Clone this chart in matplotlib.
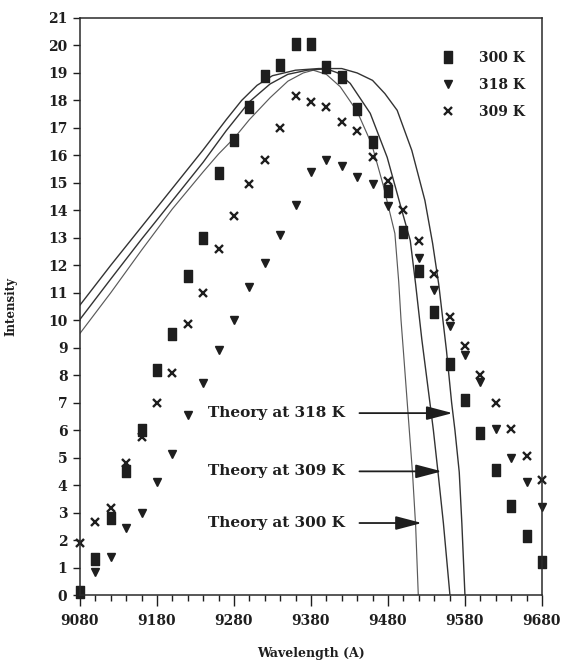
import numpy as np
import matplotlib.pyplot as plt
from matplotlib.path import Path

plt.rcParams['font.family'] = 'DejaVu Serif'
plt.rcParams['font.weight'] = 'bold'

ink = '#1e1e1e'

# measured intensities, 20 A steps
wl = np.arange(9080, 9681, 20)
i300 = [0.1, 1.3, 2.8, 4.5, 6.0, 8.2, 9.5, 11.6, 13.0, 15.35, 16.55, 17.75, 18.9,
        19.3, 20.05, 20.05, 19.2, 18.85, 17.7, 16.5, 14.7, 13.2, 11.8, 10.3, 8.4,
        7.1, 5.9, 4.55, 3.25, 2.15, 1.2]
i309 = [1.9, 2.67, 3.15, 4.8, 5.75, 7.0, 8.07, 9.85, 11.0, 12.6, 13.8, 14.95, 15.85,
        17.0, 18.15, 17.95, 17.75, 17.2, 16.9, 15.95, 15.05, 14.0, 12.9, 11.7, 10.1,
        9.05, 8.0, 7.0, 6.05, 5.05, 4.2]
wl318 = [9100, 9120, 9140, 9160, 9180, 9200, 9220, 9240, 9260, 9280, 9300, 9320,
         9340, 9360, 9380, 9400, 9420, 9440, 9460, 9480, 9520, 9540, 9560, 9580,
         9600, 9620, 9640, 9660, 9680]
i318 = [0.85, 1.4, 2.45, 3.0, 4.1, 5.15, 6.55, 7.7, 8.9, 10.0, 11.2, 12.1, 13.1,
        14.2, 15.4, 15.85, 15.6, 15.2, 14.95, 14.15, 12.25, 11.1, 9.8, 8.75, 7.75,
        6.05, 5.0, 4.1, 3.2]

# theory curves
th300_x = [9080, 9120, 9160, 9200, 9240, 9260, 9281, 9300, 9327, 9350, 9370, 9383,
           9400, 9418, 9440, 9459, 9474, 9489, 9494, 9497, 9500, 9504, 9508, 9512,
           9516, 9519.4]
th300_y = [9.52, 11.0, 12.55, 14.05, 15.4, 16.05, 16.65, 17.3, 18.1, 18.7, 19.0, 19.1,
           18.95, 18.5, 17.6, 16.4, 14.9, 13.16, 11.4, 10.0, 8.9, 7.4, 5.9, 4.4,
           2.5, 0.0]
th309_x = [9080, 9120, 9160, 9200, 9240, 9270, 9300, 9327, 9350, 9375, 9400, 9415,
           9431, 9457, 9479, 9498, 9509, 9516, 9524, 9534.5, 9539, 9545, 9552, 9560.5]
th309_y = [10.03, 11.5, 12.95, 14.35, 15.75, 16.9, 17.95, 18.6, 18.95, 19.1, 19.15,
           19.0, 18.62, 17.53, 15.93, 14.0, 12.9, 11.3, 9.3, 7.0, 6.0, 4.47, 2.62, 0.0]
th318_x = [9080, 9120, 9160, 9200, 9240, 9270, 9290, 9310, 9330, 9360, 9390, 9420,
           9440, 9460, 9476, 9492, 9511, 9528, 9538, 9546, 9551.4, 9556, 9562.7,
           9567, 9572.6, 9576, 9580]
th318_y = [10.55, 12.0, 13.4, 14.8, 16.2, 17.3, 18.0, 18.55, 18.9, 19.1, 19.16, 19.16,
           19.0, 18.73, 18.25, 17.64, 16.18, 14.36, 12.8, 11.3, 10.0, 8.9, 7.0, 6.0,
           4.47, 2.6, 0.0]

bar = Path([(-0.32, -0.5), (0.32, -0.5), (0.32, 0.5), (-0.32, 0.5), (-0.32, -0.5)],
           [1, 2, 2, 2, 79])

fig = plt.figure(figsize=(5.63, 6.69), dpi=100)
ax = fig.add_axes([0.142, 0.1106, 0.8206, 0.8625])

ax.plot(th300_x, th300_y, color='#5a5a5a', lw=0.85)
ax.plot(th309_x, th309_y, color='#333333', lw=1.0)
ax.plot(th318_x, th318_y, color='#333333', lw=1.0)

ax.plot(wl, i300, ls='none', marker=bar, ms=8, color=ink, label='300 K', clip_on=False)
ax.plot(wl318, i318, ls='none', marker='v', ms=5.5, color=ink, label='318 K', clip_on=False)
ax.plot(wl, i309, ls='none', marker='x', ms=5.5, mew=1.7, color=ink, label='309 K', clip_on=False)

arrows = [('Theory at 318 K', 6.62, 9564), ('Theory at 309 K', 4.5, 9550),
          ('Theory at 300 K', 2.62, 9524)]
for txt, yy, tip in arrows:
    ax.text(9246, yy, txt, fontsize=11, fontweight='bold', va='center', color=ink)
    ax.annotate('', xy=(tip, yy), xytext=(9443, yy),
                arrowprops=dict(arrowstyle='-|>,head_length=1.6,head_width=0.42',
                                lw=1.3, color=ink, shrinkA=0, shrinkB=0))

ax.set_xlim(9080, 9680)
ax.set_ylim(0, 21)
ax.set_xticks(np.arange(9080, 9681, 100))
ax.set_xticks(np.arange(9080, 9681, 20), minor=True)
ax.set_yticks(np.arange(0, 22, 1))
ax.tick_params(axis='x', which='major', direction='out', length=8, width=1, pad=6,
               labelsize=10, colors=ink)
ax.tick_params(axis='x', which='minor', direction='out', length=4, width=1, colors=ink)
ax.tick_params(axis='y', direction='out', length=5, width=1, pad=4, labelsize=10, colors=ink)
for s in ax.spines.values():
    s.set_linewidth(1.1)
    s.set_color('#2a2a2a')

ax.set_xlabel('Wavelength (A)', fontsize=9, fontweight='bold', labelpad=13, color=ink)
ax.set_ylabel('Intensity', fontsize=8.5, fontweight='bold', labelpad=22, color=ink)

ax.legend(loc='upper right', bbox_to_anchor=(0.99, 0.965), frameon=False, fontsize=10,
          labelspacing=0.95, handletextpad=1.6, handlelength=1.2, labelcolor=ink)

fig.savefig('out.png', dpi=100)
